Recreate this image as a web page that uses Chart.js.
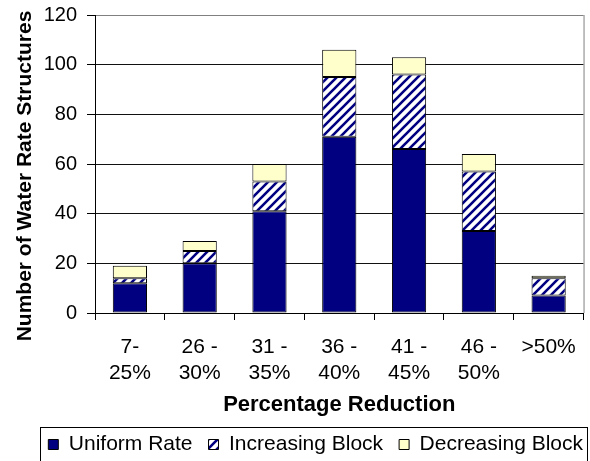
<!DOCTYPE html>
<html>
<head>
<meta charset="utf-8">
<script src="https://cdn.jsdelivr.net/npm/chart.js@4.4.1/dist/chart.umd.min.js"></script>
<style>
  html, body { margin: 0; padding: 0; background: #fff; }
  canvas { display: block; }
</style>
</head>
<body>
<canvas id="chart" width="590" height="461"></canvas>
<script>
// Reduction bands
const categories = [['7-', '25%'], ['26 -', '30%'], ['31 -', '35%'], ['36 -', '40%'], ['41 -', '45%'], ['46 -', '50%'], '>50%'];
// Counts of rate structures per band
const uniformRate = [12, 20, 41, 71, 66, 33, 7];
const increasingBlock = [2, 5, 12, 24, 30, 24, 7];
const decreasingBlock = [5, 4, 7, 11, 7, 7, 1];
const yTicks = [0, 20, 40, 60, 80, 100, 120];

const FONT = '"Liberation Sans", Arial, sans-serif';
const NAVY = '#000080';

// Navy diagonal stripes on white
function hatchPattern() {
  const s = 9;
  const c = document.createElement('canvas');
  c.width = s; c.height = s;
  const g = c.getContext('2d');
  g.fillStyle = '#ffffff';
  g.fillRect(0, 0, s, s);
  g.strokeStyle = NAVY;
  g.lineWidth = 2.6;
  g.beginPath();
  g.moveTo(-2, s + 2); g.lineTo(s + 2, -2);
  g.moveTo(-2, 2); g.lineTo(2, -2);
  g.moveTo(s - 2, s + 2); g.lineTo(s + 2, s - 2);
  g.stroke();
  return g.createPattern(c, 'repeat');
}

// Rotated y-axis title, placed by hand
const yTitlePlugin = {
  id: 'yTitle',
  afterDraw(chart) {
    const ctx = chart.ctx;
    ctx.save();
    ctx.translate(25, 176);
    ctx.rotate(-Math.PI / 2);
    ctx.font = 'bold 21px ' + FONT;
    ctx.fillStyle = '#000';
    ctx.textAlign = 'center';
    ctx.textBaseline = 'middle';
    ctx.fillText('Number of Water Rate Structures', 0, 0);
    ctx.restore();
  }
};

// Legend placement tweak and its frame; gray right edge of the plot
const framePlugin = {
  id: 'frames',
  afterLayout(chart) {
    const lg = chart.legend;
    lg.top += 4; lg.bottom += 4;
    lg.right += 12;
  },
  afterDraw(chart) {
    const ctx = chart.ctx;
    const a = chart.chartArea;
    ctx.save();
    ctx.strokeStyle = '#808080';
    ctx.lineWidth = 1;
    ctx.beginPath();
    ctx.moveTo(a.right + 0.5, a.top);
    ctx.lineTo(a.right + 0.5, a.bottom);
    ctx.stroke();

    const lg = chart.legend;
    const hb = lg.legendHitBoxes;
    if (hb && hb.length) {
      const left = Math.round(hb[0].left) - 8;
      const last = hb[hb.length - 1];
      const right = Math.round(last.left + last.width) + 4;
      const top = Math.round(lg.top) + 9;
      ctx.strokeStyle = '#000';
      ctx.strokeRect(left + 0.5, top + 0.5, right - left, chart.height - top + 4);
    }
    ctx.restore();
  }
};

const hatch = hatchPattern();

new Chart(document.getElementById('chart'), {
  type: 'bar',
  data: {
    labels: categories,
    datasets: [
      { label: 'Uniform Rate', data: uniformRate, backgroundColor: NAVY },
      { label: 'Increasing Block', data: increasingBlock, backgroundColor: hatch },
      { label: 'Decreasing Block', data: decreasingBlock, backgroundColor: '#FFFFCC' }
    ].map(d => Object.assign(d, {
      borderColor: '#000',
      borderWidth: 1,
      borderSkipped: false,
      categoryPercentage: 1,
      barPercentage: 0.49
    }))
  },
  options: {
    responsive: false,
    animation: false,
    devicePixelRatio: 1,
    layout: { padding: { top: 0, right: 3, left: 0, bottom: 0 } },
    plugins: {
      tooltip: { enabled: false },
      legend: {
        position: 'bottom',
        align: 'end',
        labels: {
          font: { family: FONT, size: 21 },
          color: '#000',
          boxWidth: 10,
          boxHeight: 10,
          padding: 16,
          generateLabels(chart) {
            return chart.data.datasets.map((d, i) => ({
              text: d.label,
              fillStyle: d.backgroundColor,
              strokeStyle: '#000',
              lineWidth: 1,
              datasetIndex: i,
              hidden: false
            }));
          }
        }
      }
    },
    scales: {
      x: {
        stacked: true,
        afterFit(scale) { scale.height = 101; },
        grid: {
          display: true,
          offset: true,
          drawOnChartArea: false,
          drawTicks: true,
          tickLength: 7,
          tickColor: '#000',
          color: '#000'
        },
        border: { display: true, color: '#000', width: 1 },
        ticks: {
          font: { family: FONT, size: 21, lineHeight: 1.24 },
          color: '#000',
          padding: 14,
          maxRotation: 0,
          autoSkip: false
        },
        title: {
          display: true,
          text: 'Percentage Reduction',
          color: '#000',
          font: { family: FONT, size: 22, weight: 'bold', lineHeight: 0.6 },
          padding: { top: 0, bottom: 2 }
        }
      },
      y: {
        stacked: true,
        min: 0,
        max: 120,
        afterFit(scale) {
          scale.width = 95;
          scale.paddingTop = 15;
        },
        afterBuildTicks(scale) { scale.ticks = yTicks.map(v => ({ value: v })); },
        grid: {
          color: ctx => (ctx.tick && ctx.tick.value === 120 ? '#808080' : '#111'),
          tickColor: '#000',
          tickLength: 8,
          lineWidth: 1
        },
        border: { display: true, color: '#000', width: 1 },
        ticks: {
          font: { family: FONT, size: 20 },
          color: '#000',
          padding: 10
        }
      }
    }
  },
  plugins: [yTitlePlugin, framePlugin]
});
</script>
</body>
</html>
